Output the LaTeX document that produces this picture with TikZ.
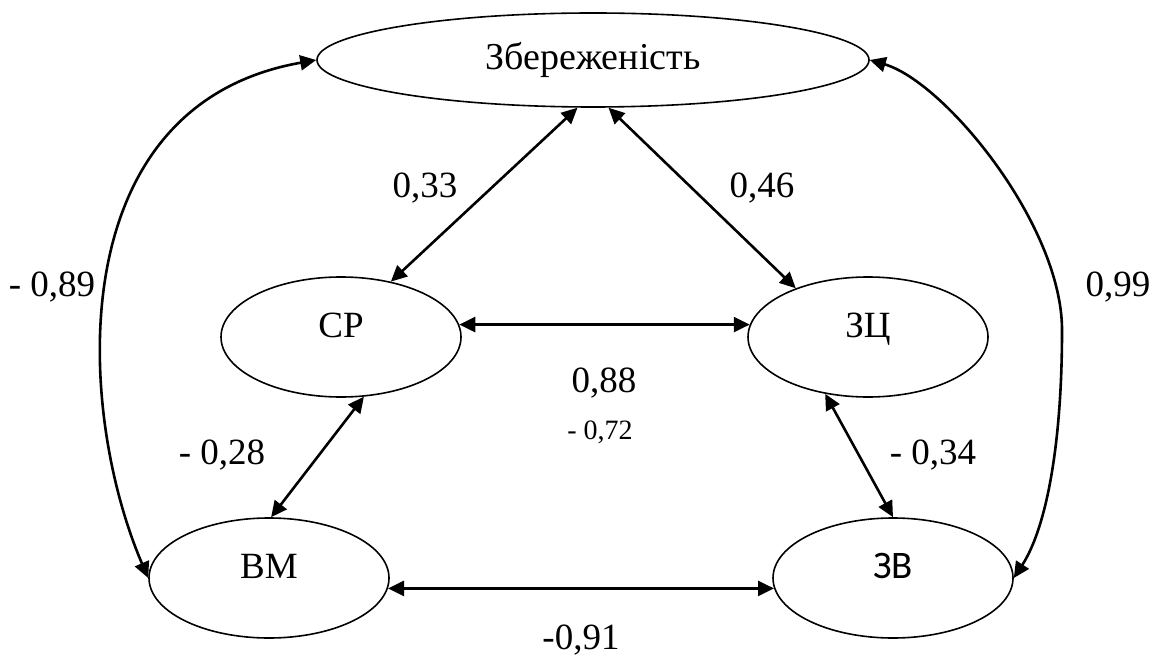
\documentclass[tikz,border=0pt]{standalone}
\usepackage{fontspec}
\setmainfont{Liberation Serif}
\newfontfamily\calibrifont{Carlito}
\usetikzlibrary{shapes.geometric, arrows.meta, positioning}

\begin{document}
\begin{tikzpicture}[
    % one unit = one pixel of the reference, y runs downwards
    x=0.5pt, y=-0.5pt,
    every node/.style={font=\fontsize{18.5}{21}\selectfont},
    oval/.style={ellipse, draw, line width=0.8pt, minimum width=120pt, minimum height=60pt, inner sep=0pt, text height=12pt, text depth=12pt},
    wide oval/.style={ellipse, draw, line width=0.8pt, minimum width=276pt, minimum height=47pt, inner sep=0pt},
    link/.style={line width=1.3pt, {Triangle[length=8pt,width=7.5pt]}-{Triangle[length=8pt,width=7.5pt]}},
    coef/.style={inner sep=1pt},
    small coef/.style={inner sep=1pt, font=\fontsize{14}{16}\selectfont}
]
    \useasboundingbox (0,0) rectangle (1154,662);

    % --- ovals ---
    \node[wide oval, font=\fontsize{19}{21}\selectfont] (zb) at (593,60) {Збереженість};
    \node[oval] (sr) at (341,337) {СР};
    \node[oval] (zc) at (868,337) {ЗЦ};
    \node[oval] (vm) at (269,578) {ВМ};
    \node[oval, font=\fontsize{19.5}{21}\calibrifont] (zv) at (893,578) {ЗВ};
    \coordinate (rbend) at (1062,330);

    % --- links ---
    \draw[link] (zb.252) -- (sr.48);
    \draw[link] (zb.288) -- (zc.146);
    \draw[link] (sr.6) -- (zc.174);
    \draw[link] (sr.-69) -- (vm.88);
    \draw[link] (zc.-127) -- (zv.north);
    \draw[link] (vm.-5) -- (zv.185);
    \draw[link] (vm.west) .. controls (76,410) and (60,105) .. (zb.west);
    \draw[link] (zb.east) .. controls (945,82) and (1062,225) .. (rbend)
                .. controls (1062,450) and (1045,530) .. (zv.east);

    % --- coefficients ---
    \node[coef] (l33) at (425,188) {0,33};
    \node[coef] (l46) at (762,188) {0,46};
    \node[coef] (l89) at (52,287) {- 0,89};
    \node[coef] (l99) at (1118,287) {0,99};
    \node[coef] (l88) at (604,383) {0,88};
    \node[small coef] (l72) at (600,432) {- 0,72};
    \node[coef] (l28) at (222,455) {- 0,28};
    \node[coef] (l34) at (933,455) {- 0,34};
    \node[coef] (l91) at (581,640) {-0,91};
\end{tikzpicture}
\end{document}
